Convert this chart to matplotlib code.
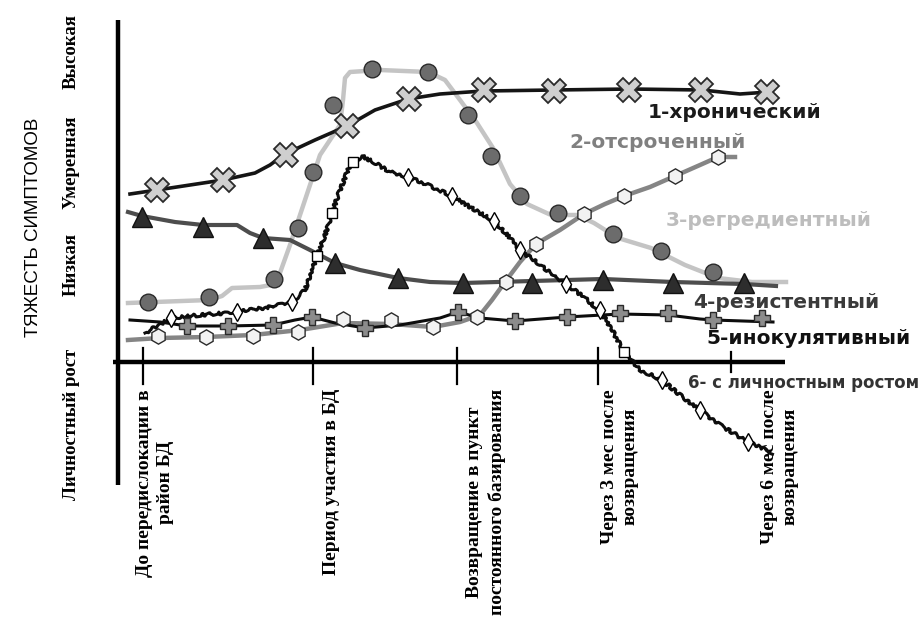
import matplotlib.pyplot as plt

# y values are heights above the time axis, x values are positions along it
tick_x = [143, 313, 457, 598, 731]
tick_labels = ["До передислокации в\nрайон БД",
               "Период участия в БД",
               "Возвращение в пункт\nпостоянного базирования",
               "Через 3 мес после\nвозвращения",
               "Через 6 мес после\nвозвращения"]
level_y = [-62, 98, 200, 310]
level_labels = ["Личностный рост", "Низкая", "Умеренная", "Высокая"]

# 1 - хронический
s1_x = [130, 157, 190, 223, 255, 270, 285, 315, 347, 375, 408, 440, 483, 554, 631, 702, 740, 769]
s1_y = [168, 172, 177, 182, 189, 197, 208, 222, 236, 252, 263, 268, 271, 272, 273, 272, 268, 270]
m1_x = [157, 223, 286, 347, 409, 484, 554, 629, 701, 767]
m1_y = [172, 182, 207, 236, 263, 272, 271, 272, 272, 270]

# 2 - отсроченный
s2_x = [128, 160, 206, 253, 300, 343, 391, 433, 460, 480, 492, 505, 520, 536, 560, 584, 605, 624, 650, 675, 700, 718, 735]
s2_y = [22, 24, 25, 27, 32, 39, 38, 35, 40, 47, 62, 80, 100, 118, 132, 148, 158, 166, 175, 186, 197, 205, 205]
m2_x = [158, 206, 253, 298, 343, 391, 433, 477, 506, 536, 584, 624, 675, 718]
m2_y = [26, 25, 26, 30, 43, 42, 35, 45, 80, 118, 148, 166, 186, 205]

# 3 - регредиентный
s3_x = [128, 209, 222, 232, 260, 276, 290, 300, 310, 320, 330, 340, 343, 345, 350, 380, 428, 445, 460, 477, 493, 510, 527, 551, 577, 594, 618, 651, 685, 718, 752, 786]
s3_y = [59, 62, 66, 74, 75, 78, 117, 147, 177, 207, 222, 237, 262, 284, 290, 292, 290, 282, 262, 239, 214, 178, 158, 147, 147, 139, 124, 114, 97, 84, 80, 80]
m3_x = [148, 209, 274, 298, 313, 333, 372, 428, 468, 491, 520, 558, 613, 661, 713]
m3_y = [60, 65, 83, 134, 190, 257, 293, 290, 247, 206, 166, 149, 128, 111, 90]

# 4 - резистентный
s4_x = [128, 142, 175, 203, 237, 250, 263, 290, 310, 335, 360, 398, 430, 463, 532, 603, 673, 744, 776]
s4_y = [150, 146, 140, 137, 137, 129, 124, 122, 112, 99, 92, 84, 80, 79, 81, 83, 80, 78, 76]
m4_x = [142, 203, 263, 335, 398, 463, 532, 603, 673, 744]
m4_y = [145, 135, 124, 99, 84, 79, 79, 82, 79, 79]

# 5 - инокулятивный
s5_x = [130, 160, 187, 228, 273, 295, 312, 335, 365, 400, 440, 458, 480, 515, 567, 620, 668, 700, 713, 773]
s5_y = [42, 40, 36, 36, 37, 42, 45, 39, 34, 37, 44, 50, 44, 41, 45, 48, 47, 43, 42, 40]
m5_x = [187, 228, 273, 312, 365, 458, 515, 567, 620, 668, 713, 762]
m5_y = [36, 36, 37, 45, 34, 50, 41, 45, 49, 49, 42, 44]

# 6 - с личностным ростом
s6_x = [145, 171, 200, 237, 270, 292, 305, 312, 317, 325, 332, 340, 350, 362, 375, 390, 408, 430, 452, 475, 494, 510, 520, 540, 566, 585, 601, 612, 624, 640, 662, 680, 700, 720, 748, 773]
s6_y = [29, 44, 47, 50, 55, 60, 72, 92, 106, 127, 149, 172, 197, 206, 199, 190, 185, 176, 166, 152, 141, 124, 112, 97, 78, 64, 50, 32, 10, -8, -18, -33, -48, -63, -80, -91]
m6d_x = [171, 237, 292, 408, 452, 494, 520, 566, 600, 662, 700, 748]
m6d_y = [44, 50, 60, 185, 166, 141, 112, 78, 52, -18, -48, -80]
m6s_x = [317, 332, 353, 624]
m6s_y = [106, 149, 200, 10]

names = ["1-хронический", "2-отсроченный", "3-регредиентный",
         "4-резистентный", "5-инокулятивный", "6- с личностным ростом"]
name_x = [648, 569, 666, 693, 706, 688]
name_y = [250, 220, 142, 60, 23, -21]
name_col = ["#1a1a1a", "#808080", "#bdbdbd", "#3a3a3a", "#111111", "#333333"]
name_size = [13, 13, 13, 13, 13, 10.5]

fig = plt.figure(figsize=(9.23, 6.23), dpi=100)
ax = fig.add_axes([0, 0, 1, 1])
ax.set_xlim(0, 923)
ax.set_ylim(-261, 362)
ax.axis("off")

# axes
ax.plot([118, 118], [342, -123], color="black", lw=3.2, solid_capstyle="butt", zorder=2)
ax.plot([113, 785], [0, 0], color="black", lw=3.2, solid_capstyle="butt", zorder=2)
label_x = [155, 331, 486, 620, 780]
for i, t in enumerate(tick_x):
    top, bot = (14, -22) if i < 4 else (10, -10)
    ax.plot([t, t], [top, bot], color="black", lw=1.6, zorder=2)
    ax.text(label_x[i], -27, tick_labels[i], rotation=90, ha="center", va="top",
            multialignment="center", family="Liberation Serif", weight="bold",
            fontsize=14, linespacing=1.3)

for y, lab in zip(level_y, level_labels):
    ax.text(71, y, lab, rotation=90, ha="center", va="center",
            family="Liberation Serif", weight="bold", fontsize=13.5)
ax.text(34, 135, "ТЯЖЕСТЬ СИМПТОМОВ", rotation=90, ha="center", va="center",
        family="Liberation Sans", fontsize=13.5)

# curves
ax.plot(s3_x, s3_y, color="#c4c4c4", lw=3.2, zorder=3)
ax.plot(s2_x, s2_y, color="#858585", lw=3.2, zorder=3)
ax.plot(s4_x, s4_y, color="#4d4d4d", lw=3.0, zorder=3)
ax.plot(s1_x, s1_y, color="#151515", lw=2.6, zorder=4)
ax.plot(s5_x, s5_y, color="#0d0d0d", lw=2.2, zorder=4)
l6, = ax.plot(s6_x, s6_y, color="#0d0d0d", lw=2.2, zorder=4)
l6.set_sketch_params(scale=1.5, length=12, randomness=6)

ax.plot(m3_x, m3_y, "o", ms=12, mfc="#6c6c6c", mec="#2a2a2a", mew=1, zorder=5)
ax.plot(m2_x, m2_y, "h", ms=11, mfc="#f2f2f2", mec="#2a2a2a", mew=1, zorder=5)
ax.plot(m4_x, m4_y, "^", ms=14, mfc="#2d2d2d", mec="#111111", mew=1, zorder=5)
ax.plot(m1_x, m1_y, "X", ms=17, mfc="#cfcfcf", mec="#2a2a2a", mew=1.3, zorder=6)
ax.plot(m5_x, m5_y, "P", ms=11, mfc="#8c8c8c", mec="#2a2a2a", mew=1, zorder=6)
ax.plot(m6d_x, m6d_y, "d", ms=9, mfc="white", mec="black", mew=1, zorder=6)
ax.plot(m6s_x, m6s_y, "s", ms=7, mfc="white", mec="black", mew=1, zorder=6)

for n, x, y, c, s in zip(names, name_x, name_y, name_col, name_size):
    ax.text(x, y, n, color=c, fontsize=s + 1.5, weight="bold", family="DejaVu Sans",
            ha="left", va="center")

fig.savefig("out.png", dpi=100)
